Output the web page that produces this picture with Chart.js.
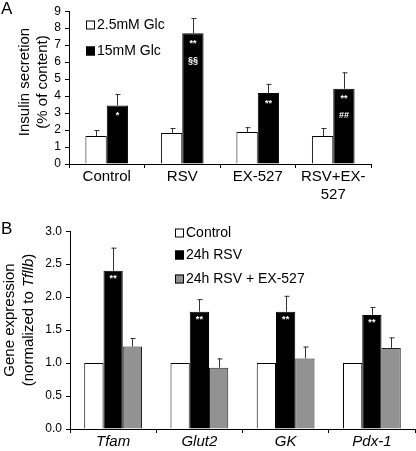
<!DOCTYPE html>
<html>
<head>
<meta charset="utf-8">
<script src="https://cdn.jsdelivr.net/npm/chart.js@4.4.1/dist/chart.umd.min.js"></script>
<style>
    html, body { margin: 0; padding: 0; background: #fff; }
    body { width: 416px; height: 451px; position: relative; overflow: hidden; }
    .panel { position: absolute; left: 0; }
    #wrapA { top: 0; width: 416px; height: 215px; }
    #wrapB { top: 220px; width: 416px; height: 231px; }
</style>
</head>
<body>
<div id="wrapA" class="panel"><canvas id="chartA"></canvas></div>
<div id="wrapB" class="panel"><canvas id="chartB"></canvas></div>
<script>
// Panel A: insulin secretion
const groupsA = ['Control', 'RSV', 'EX-527', ['RSV+EX-', '527']];
const lowGlc = [1.65, 1.83, 1.88, 1.65];
const lowGlcErr = [0.35, 0.29, 0.29, 0.47];
const highGlc = [3.45, 7.70, 4.18, 4.43];
const highGlcErr = [0.67, 0.90, 0.54, 0.97];
const marksA1 = ['*', '**', '**', '**'];
const marksA2 = ['', '§§', '', '##'];
const ticksA = [0, 1, 2, 3, 4, 5, 6, 7, 8, 9];

// Panel B: gene expression
const genesB = ['Tfam', 'Glut2', 'GK', 'Pdx-1'];
const control = [1.0, 1.0, 1.0, 1.0];
const rsv24 = [2.40, 1.78, 1.78, 1.73];
const rsv24Err = [0.35, 0.19, 0.24, 0.12];
const rsvEx = [1.25, 0.93, 1.07, 1.23];
const rsvExErr = [0.13, 0.14, 0.18, 0.16];
const marksB = ['**', '**', '**', '**'];
const ticksB = [0, 0.5, 1.0, 1.5, 2.0, 2.5, 3.0];

Chart.defaults.font.family = '"Liberation Sans", Arial, sans-serif';
Chart.defaults.color = '#000';

const errorBars = {
    id: 'errorBars',
    afterDatasetsDraw(chart) {
        const ctx = chart.ctx;
        const y = chart.scales.y;
        ctx.save();
        ctx.strokeStyle = '#333';
        ctx.lineWidth = 1;
        chart.data.datasets.forEach((ds, i) => {
            if (!ds.err) return;
            chart.getDatasetMeta(i).data.forEach((bar, j) => {
                const top = y.getPixelForValue(ds.data[j]);
                const hi = y.getPixelForValue(ds.data[j] + ds.err[j]);
                const x = Math.round(bar.x) + 0.5;
                ctx.beginPath();
                ctx.moveTo(x, top);
                ctx.lineTo(x, hi);
                ctx.moveTo(x - 2, hi + 0.5);
                ctx.lineTo(x + 3, hi + 0.5);
                ctx.stroke();
            });
        });
        ctx.restore();
    }
};

const barMarks = {
    id: 'barMarks',
    afterDatasetsDraw(chart, args, opts) {
        if (!opts.rows) return;
        const ctx = chart.ctx;
        const meta = chart.getDatasetMeta(opts.dataset);
        ctx.save();
        ctx.fillStyle = '#fff';
        ctx.font = 'bold 9px "Liberation Sans", Arial, sans-serif';
        ctx.textAlign = 'center';
        ctx.textBaseline = 'middle';
        opts.rows.forEach((row, r) => {
            meta.data.forEach((bar, j) => {
                if (row[j]) ctx.fillText(row[j], bar.x, bar.y + opts.offset + r * 17);
            });
        });
        ctx.restore();
    }
};

const decor = {
    id: 'decor',
    afterDraw(chart, args, opts) {
        const ctx = chart.ctx;
        ctx.save();
        ctx.fillStyle = '#000';
        // panel letter
        ctx.font = '17px "Liberation Sans", Arial, sans-serif';
        ctx.textBaseline = 'alphabetic';
        ctx.textAlign = 'left';
        ctx.fillText(opts.letter, 1, 14);
        // y-axis title, rotated, parts can be italic
        opts.title.forEach(line => {
            ctx.save();
            ctx.translate(line.x, line.y);
            ctx.rotate(-Math.PI / 2);
            ctx.textBaseline = 'middle';
            let total = 0;
            line.parts.forEach(p => {
                ctx.font = (p.italic ? 'italic ' : '') + '15px "Liberation Sans", Arial, sans-serif';
                total += ctx.measureText(p.text).width;
            });
            let cx = -total / 2;
            line.parts.forEach(p => {
                ctx.font = (p.italic ? 'italic ' : '') + '15px "Liberation Sans", Arial, sans-serif';
                ctx.fillText(p.text, cx, 0);
                cx += ctx.measureText(p.text).width;
            });
            ctx.restore();
        });
        // legend
        ctx.font = '14px "Liberation Sans", Arial, sans-serif';
        ctx.textBaseline = 'middle';
        opts.legend.forEach(item => {
            ctx.fillStyle = item.color;
            ctx.fillRect(item.x, item.y - 4.5, 9, 9);
            ctx.strokeStyle = '#000';
            ctx.lineWidth = 1;
            ctx.strokeRect(item.x + 0.5, item.y - 4, 8, 8);
            ctx.fillStyle = '#000';
            ctx.fillText(item.label, item.x + 11, item.y);
        });
        ctx.restore();
    }
};

function axisScales(maxY, stepY, yWidth, xHeight, italicX, fmt) {
    return {
        x: {
            grid: { offset: true, drawOnChartArea: false, drawTicks: true, tickLength: 4, color: '#000' },
            border: { color: '#000', width: 1 },
            ticks: { font: { size: 15, style: italicX ? 'italic' : 'normal' }, color: '#000', padding: 0, maxRotation: 0, autoSkip: false },
            afterFit: s => { s.height = xHeight; }
        },
        y: {
            min: 0, max: maxY,
            grid: { drawOnChartArea: false, drawTicks: true, tickLength: 4, color: '#000' },
            border: { color: '#000', width: 1 },
            ticks: { stepSize: stepY, autoSkip: false, font: { size: 12 }, color: '#000', padding: 4, callback: fmt },
            afterFit: s => { s.width = yWidth; }
        }
    };
}

new Chart(document.getElementById('chartA'), {
    type: 'bar',
    data: {
        labels: groupsA,
        datasets: [
            { label: '2.5mM Glc', data: lowGlc, err: lowGlcErr, backgroundColor: '#fff', borderColor: '#000', borderWidth: 1 },
            { label: '15mM Glc', data: highGlc, err: highGlcErr, backgroundColor: '#000', borderColor: '#000', borderWidth: 1 }
        ]
    },
    options: {
        responsive: true,
        maintainAspectRatio: false,
        animation: false,
        layout: { padding: { left: 0, right: 45, top: 5, bottom: 0 } },
        datasets: { bar: { categoryPercentage: 0.565, barPercentage: 1.0 } },
        scales: axisScales(9, 1, 69, 51, false, v => ticksA.includes(v) ? String(v) : ''),
        plugins: {
            legend: { display: false },
            tooltip: { enabled: false },
            barMarks: { dataset: 1, offset: 10, rows: [marksA1, marksA2] },
            decor: {
                letter: 'A',
                title: [
                    { x: 25, y: 82, parts: [{ text: 'Insulin secretion' }] },
                    { x: 43, y: 82, parts: [{ text: '(% of content)' }] }
                ],
                legend: [
                    { x: 86, y: 25, color: '#fff', label: '2.5mM Glc' },
                    { x: 86, y: 51, color: '#000', label: '15mM Glc' }
                ]
            }
        }
    },
    plugins: [errorBars, barMarks, decor]
});

new Chart(document.getElementById('chartB'), {
    type: 'bar',
    data: {
        labels: genesB,
        datasets: [
            { label: 'Control', data: control, backgroundColor: '#fff', borderColor: '#000', borderWidth: 1 },
            { label: '24h RSV', data: rsv24, err: rsv24Err, backgroundColor: '#000', borderColor: '#000', borderWidth: 1 },
            { label: '24h RSV + EX-527', data: rsvEx, err: rsvExErr, backgroundColor: '#929292', borderColor: '#222', borderWidth: 1 }
        ]
    },
    options: {
        responsive: true,
        maintainAspectRatio: false,
        animation: false,
        layout: { padding: { left: 0, right: 1, top: 6, bottom: 0 } },
        datasets: { bar: { categoryPercentage: 0.67, barPercentage: 1.0 } },
        scales: axisScales(3, 0.5, 70, 22, true, v => ticksB.includes(v) ? v.toFixed(1) : ''),
        plugins: {
            legend: { display: false },
            tooltip: { enabled: false },
            barMarks: { dataset: 1, offset: 8, rows: [marksB] },
            decor: {
                letter: 'B',
                title: [
                    { x: 10, y: 100, parts: [{ text: 'Gene expression' }] },
                    { x: 29, y: 100, parts: [{ text: '(normalized to ' }, { text: 'Tfllb', italic: true }, { text: ')' }] }
                ],
                legend: [
                    { x: 175, y: 13, color: '#fff', label: 'Control' },
                    { x: 175, y: 35, color: '#000', label: '24h RSV' },
                    { x: 175, y: 59, color: '#929292', label: '24h RSV + EX-527' }
                ]
            }
        }
    },
    plugins: [errorBars, barMarks, decor]
});
</script>
</body>
</html>
